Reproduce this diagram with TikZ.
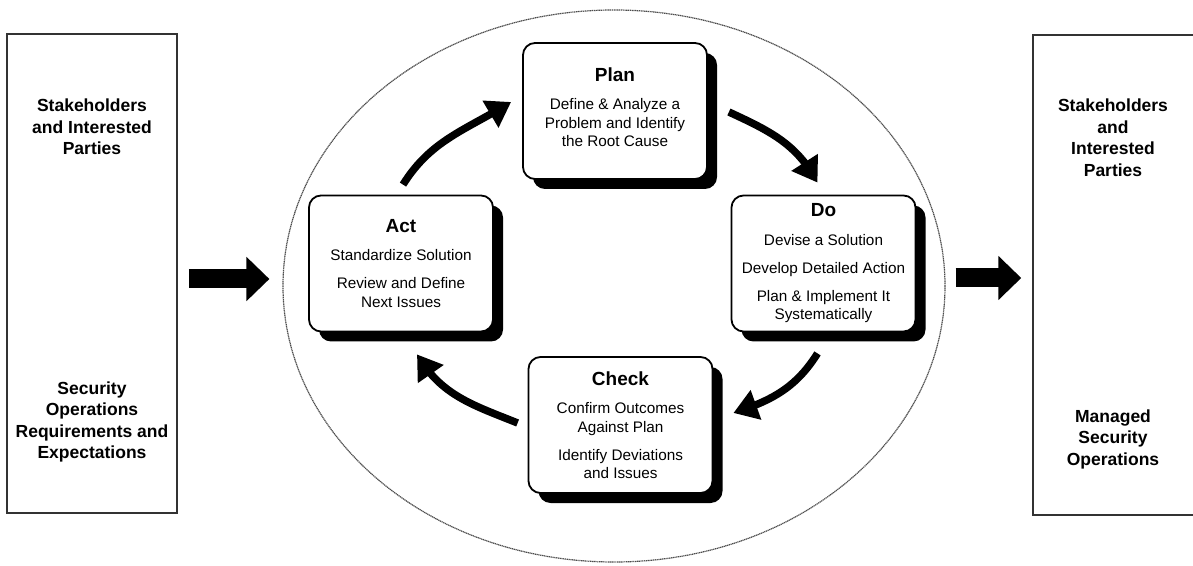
\documentclass[tikz,border=0pt]{standalone}
\usepackage{fontspec}
\setmainfont{Liberation Sans}
\usepackage{tikz}
\usetikzlibrary{shapes.geometric,shadows,arrows.meta,bending}

\newcommand{\stagetitle}[1]{{\fontsize{19}{22}\selectfont\bfseries #1}}

\begin{document}
\begin{tikzpicture}[x=1pt,y=1pt]
	\tikzstyle{stage} = [draw=black, line width=1.8pt, rounded corners=12pt, fill=white, minimum width=184pt, minimum height=136pt, align=center, inner sep=1pt, font=\fontsize{15.3}{18.5}\selectfont, drop shadow={shadow xshift=10pt, shadow yshift=-10pt, fill=black, opacity=1}]
	\tikzstyle{side} = [draw=black!80, line width=1.5pt, inner sep=0pt]
	\tikzstyle{sidetext} = [align=center, font=\fontsize{17.5}{21.5}\selectfont\bfseries]
	\tikzstyle{cyc} = [line width=7.5pt, -{Triangle[length=24pt,width=30pt]}]
	\tikzstyle{block} = [line width=19pt, -{Triangle[length=23pt,width=43pt]}]
	\useasboundingbox (0,0) rectangle (1193,565);
	% the ring round the cycle
	\node[draw=black!70, line width=1.2pt, dash pattern=on 1.2pt off 0.6pt, ellipse, minimum width=662pt, minimum height=552pt, inner sep=0pt] (ring) at (614,279) {};
	% side boxes
	\node[side, minimum width=170pt, minimum height=479pt] (lbox) at (92,291.5) {};
	\node[side, minimum width=163pt, minimum height=480pt] (rbox) at (1114.5,290) {};
	\node[sidetext] (ltop) at (92,438) {Stakeholders\\and Interested\\Parties};
	\node[sidetext] (lbot) at (92,143) {Security\\Operations\\Requirements and\\Expectations};
	\node[sidetext] (rtop) at (1113,427.5) {Stakeholders\\and\\Interested\\Parties};
	\node[sidetext] (rbot) at (1113,126) {Managed\\Security\\Operations};
	% the four stages
	\node[stage] (plan) at (615,454) {\stagetitle{Plan}\\[10pt]Define \& Analyze a\\Problem and Identify\\the Root Cause\\[-10.5pt]};
	\node[stage] (do) at (823.5,301.5) {\stagetitle{Do}\\[10pt]Devise a Solution\\[9.5pt]Develop Detailed Action\\[9.5pt]Plan \& Implement It\\Systematically};
	\node[stage] (check) at (620.5,140) {\stagetitle{Check}\\[10pt]Confirm Outcomes\\Against Plan\\[9.5pt]Identify Deviations\\and Issues};
	\node[stage] (act) at (401,301.5) {\stagetitle{Act}\\[10pt]Standardize Solution\\[9.5pt]Review and Define\\Next Issues};
	% cycle arrows
	\draw[cyc] ([shift={(2,10)}]act.north) to[out=58,in=212] ([shift={(-11,9)}]plan.west);
	\draw[cyc] ([shift={(21,-1)}]plan.east) to[out=-25,in=118] ([shift={(-6,12)}]do.north);
	\draw[cyc] ([shift={(-6,-21)}]do.south) to[out=238,in=18] ([shift={(20,12)}]check.east);
	\draw[cyc] ([shift={(-10,2)}]check.west) to[out=158,in=300] ([shift={(16,-22)}]act.south);
	% in and out
	\draw[block] ([shift={(11,-5.5)}]lbox.east) -- ([shift={(-13,7)}]ring.west);
	\draw[block] ([shift={(10,8)}]ring.east) -- ([shift={(-11,-3)}]rbox.west);
\end{tikzpicture}
\end{document}
